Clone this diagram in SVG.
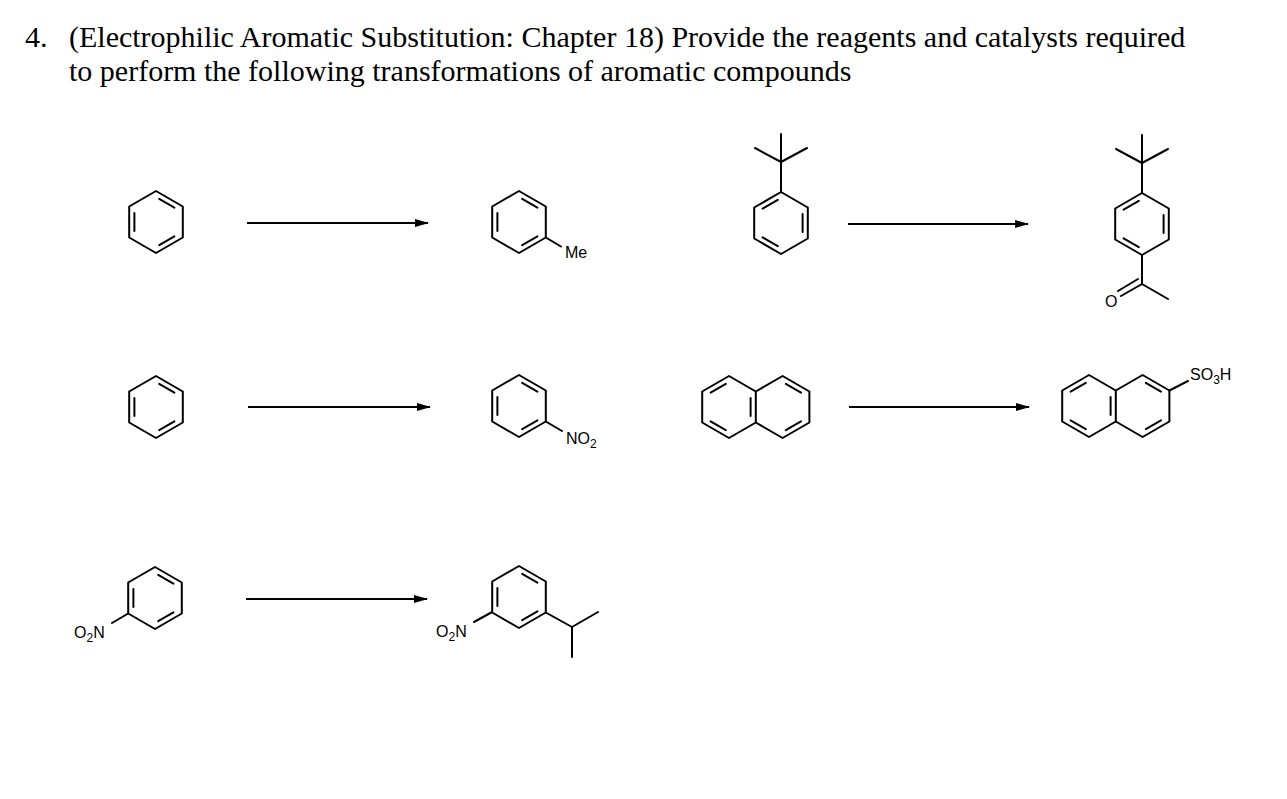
<svg xmlns="http://www.w3.org/2000/svg" width="1287" height="799" viewBox="0 0 1287 799" xmlns:xlink="http://www.w3.org/1999/xlink">
<style>
.b{fill:none;stroke:#000;stroke-width:2;stroke-linecap:round;stroke-linejoin:round}
.t{font-family:"Liberation Serif",serif;font-size:30px;fill:#000}
.l{font-family:"Liberation Sans",sans-serif;font-size:16px;fill:#000}
.s{font-size:12px}
.a{stroke:#000;stroke-width:2}
</style>
<defs>
<marker id="ah" markerWidth="14" markerHeight="8" refX="13" refY="4" orient="auto" markerUnits="userSpaceOnUse"><path d="M0,0 L14,4 L0,8 Z" fill="#000"/></marker>
<g id="bz"><path class="b" d="M0,-31 L26.8,-15.5 L26.8,15.5 L0,31 L-26.8,15.5 L-26.8,-15.5 Z M3.2,-23.1 L18.4,-14.4 M18.4,14.4 L3.2,23.1 M-21.6,9 L-21.6,-9"/></g>
<g id="bz2"><path class="b" d="M0,-31 L26.8,-15.5 L26.8,15.5 L0,31 L-26.8,15.5 L-26.8,-15.5 Z M-3.2,-23.1 L-18.4,-14.4 M-18.4,14.4 L-3.2,23.1 M21.6,9 L21.6,-9"/></g>
<g id="nap"><path class="b" d="M0,-31 L26.8,-15.5 L26.8,15.5 L0,31 L-26.8,15.5 L-26.8,-15.5 Z M-3.2,-23.1 L-18.4,-14.4 M-18.4,14.4 L-3.2,23.1 M21.6,9 L21.6,-9"/><path class="b" d="M26.8,-15.5 L53.6,-31 L80.4,-15.5 L80.4,15.5 L53.6,31 L26.8,15.5 M56.8,-23.1 L72,-14.4 M72,14.4 L56.8,23.1"/></g>
</defs>
<text class="t" x="25" y="47">4.</text>
<text class="t" x="69" y="47">(Electrophilic Aromatic Substitution: Chapter 18) Provide the reagents and catalysts required</text>
<text class="t" x="69" y="81">to perform the following transformations of aromatic compounds</text>
<g id="connectors">
<line class="a" x1="247" y1="223" x2="428" y2="223" marker-end="url(#ah)"/>
<line class="a" x1="848" y1="224" x2="1028" y2="224" marker-end="url(#ah)"/>
<line class="a" x1="248" y1="407" x2="430" y2="407" marker-end="url(#ah)"/>
<line class="a" x1="849" y1="407" x2="1029" y2="407" marker-end="url(#ah)"/>
<line class="a" x1="246" y1="599" x2="427" y2="599" marker-end="url(#ah)"/>
</g>
<g id="benzene1"><use xlink:href="#bz" x="156" y="222"/></g>
<g id="toluene"><use xlink:href="#bz" x="519" y="222"/><path class="b" d="M545.8,237.5 L561,246.5"/><text class="l" x="565" y="258">Me</text></g>
<g id="tbubenzene"><use xlink:href="#bz2" x="781" y="223"/><path class="b" d="M781,192 L781,162 M781,162 L781,134 M781,162 L755,148 M781,162 L807,148"/></g>
<g id="ketone"><use xlink:href="#bz2" x="1142" y="224"/><path class="b" d="M1142,193 L1142,163 M1142,163 L1142,135 M1142,163 L1116,149 M1142,163 L1168,149 M1142,255 L1142,284 L1168,299 M1142,284 L1121,296 M1138,279 L1118,291"/><text class="l" x="1105" y="307">O</text></g>
<g id="benzene2"><use xlink:href="#bz" x="156" y="407"/></g>
<g id="nitrobenzene"><use xlink:href="#bz" x="519" y="406"/><path class="b" d="M545.8,421.5 L562,431"/><text class="l" x="566" y="444">NO<tspan class="s" dy="4">2</tspan></text></g>
<g id="naphthalene"><use xlink:href="#nap" x="729" y="407"/></g>
<g id="naphsulfonic"><use xlink:href="#nap" x="1089" y="406"/><path class="b" d="M1169.4,390.5 L1188,381"/><text class="l" x="1190" y="380">SO<tspan class="s" dy="4">3</tspan><tspan dy="-4">H</tspan></text></g>
<g id="nitro3"><use xlink:href="#bz" x="155" y="598"/><path class="b" d="M128.2,613.5 L112,623"/><text class="l" x="74" y="638">O<tspan class="s" dy="4">2</tspan><tspan dy="-4">N</tspan></text></g>
<g id="product3"><use xlink:href="#bz" x="519" y="597"/><path class="b" d="M491.2,612.5 L474,622 M545.8,612.5 L572,627 L598,612 M572,627 L572,657"/><text class="l" x="436" y="637">O<tspan class="s" dy="4">2</tspan><tspan dy="-4">N</tspan></text></g>
</svg>
